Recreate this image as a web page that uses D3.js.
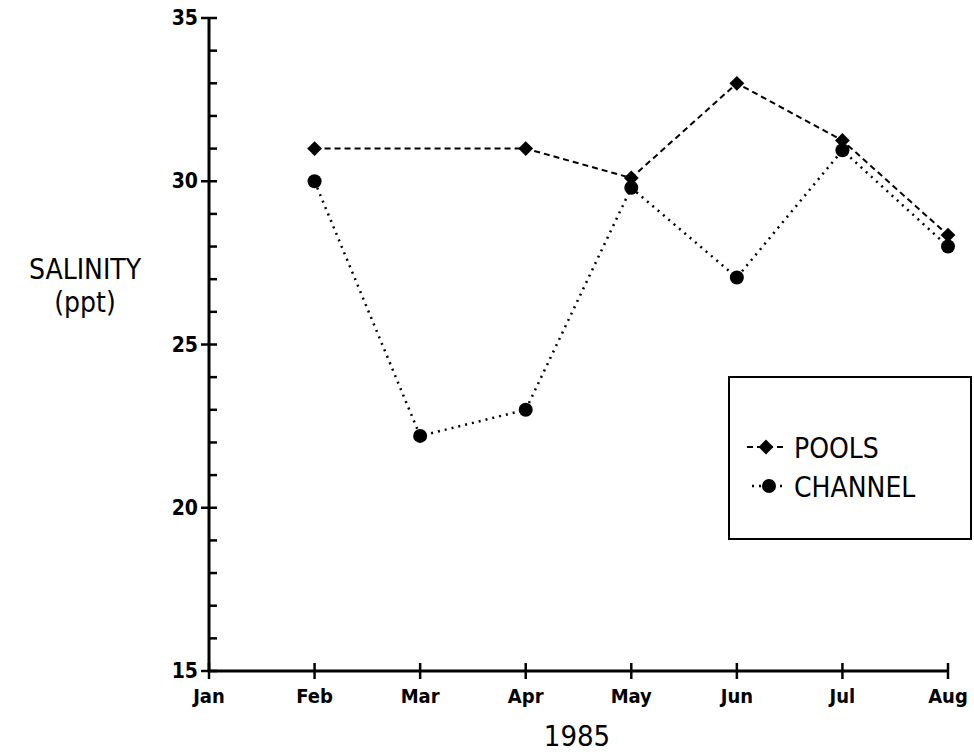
<!DOCTYPE html>
<html><head><meta charset="utf-8">
<script src="https://cdn.jsdelivr.net/npm/d3@7"></script>
<style>body{margin:0;background:#fff}</style>
</head><body>
<svg id="chart" width="974" height="756"></svg>
<script>
const months = ['Jan', 'Feb', 'Mar', 'Apr', 'May', 'Jun', 'Jul', 'Aug'];
const poolMonths = ['Feb', 'Apr', 'May', 'Jun', 'Jul', 'Aug'];
const poolValues = [31, 31, 30.1, 33, 31.25, 28.35];
const channelMonths = ['Feb', 'Mar', 'Apr', 'May', 'Jun', 'Jul', 'Aug'];
const channelValues = [30, 22.2, 23, 29.8, 27.05, 30.95, 28];
const yTicks = [15, 20, 25, 30, 35];

const svg = d3.select('#chart');
const font = "'DejaVu Sans Condensed', 'DejaVu Sans', sans-serif";

const x = d3.scalePoint().domain(months).range([209, 948]);
const y = d3.scaleLinear().domain([15, 35]).range([671, 18]);

// axes
svg.append('line').attr('x1', 209).attr('x2', 948).attr('y1', y(15)).attr('y2', y(15))
  .attr('stroke', '#000').attr('stroke-width', 3);
svg.append('line').attr('x1', 209).attr('x2', 209).attr('y1', y(15)).attr('y2', y(35))
  .attr('stroke', '#000').attr('stroke-width', 3);

// y ticks
d3.range(15, 36).forEach(v => {
  const major = v % 5 === 0;
  svg.append('line').attr('x1', major ? 201 : 209).attr('x2', 217)
    .attr('y1', y(v)).attr('y2', y(v)).attr('stroke', '#000').attr('stroke-width', 2.5);
});
yTicks.forEach(v => {
  svg.append('text').attr('x', 198).attr('y', y(v) + 7).attr('text-anchor', 'end')
    .style('font-family', font).style('font-size', '21px').style('font-weight', 'bold').text(v);
});

// x ticks
months.forEach(m => {
  svg.append('line').attr('x1', x(m)).attr('x2', x(m)).attr('y1', y(15) - 8).attr('y2', y(15) + 8)
    .attr('stroke', '#000').attr('stroke-width', 2.5);
  svg.append('text').attr('x', x(m)).attr('y', 703).attr('text-anchor', 'middle')
    .style('font-family', font).style('font-size', '20px').style('font-weight', 'bold').text(m);
});

svg.append('text').attr('x', 577).attr('y', 746).attr('text-anchor', 'middle')
  .style('font-family', font).style('font-size', '29px').text('1985');
svg.append('text').attr('x', 85).attr('y', 279).attr('text-anchor', 'middle')
  .style('font-family', font).style('font-size', '28px').text('SALINITY');
svg.append('text').attr('x', 85).attr('y', 312).attr('text-anchor', 'middle')
  .style('font-family', font).style('font-size', '28px').text('(ppt)');

const line = d3.line().x(d => x(d[0])).y(d => y(d[1]));
const pools = poolMonths.map((m, i) => [m, poolValues[i]]);
const channel = channelMonths.map((m, i) => [m, channelValues[i]]);

svg.append('path').attr('d', line(pools)).attr('fill', 'none').attr('stroke', '#000')
  .attr('stroke-width', 2).attr('stroke-dasharray', '6,4');
svg.append('path').attr('d', line(channel)).attr('fill', 'none').attr('stroke', '#000')
  .attr('stroke-width', 2.5).attr('stroke-dasharray', '2,5');

const diamond = d3.symbol().type(d3.symbolSquare).size(110);
const dTf = 'rotate(45) ';
svg.selectAll('.pt-pool').data(pools).enter().append('path')
  .attr('transform', d => `translate(${x(d[0])},${y(d[1])}) ${dTf}`)
  .attr('d', diamond()).attr('fill', '#000');
svg.selectAll('.pt-ch').data(channel).enter().append('circle')
  .attr('cx', d => x(d[0])).attr('cy', d => y(d[1])).attr('r', 7).attr('fill', '#000');

// legend
svg.append('rect').attr('x', 729).attr('y', 377).attr('width', 242).attr('height', 162)
  .attr('fill', '#fff').attr('stroke', '#000').attr('stroke-width', 2);
svg.append('line').attr('x1', 747).attr('x2', 785).attr('y1', 447).attr('y2', 447)
  .attr('stroke', '#000').attr('stroke-width', 2).attr('stroke-dasharray', '6,4');
svg.append('path').attr('transform', `translate(766,447) ${dTf}`).attr('d', diamond()).attr('fill', '#000');
svg.append('line').attr('x1', 752).attr('x2', 785).attr('y1', 486).attr('y2', 486)
  .attr('stroke', '#000').attr('stroke-width', 2.5).attr('stroke-dasharray', '2,5');
svg.append('circle').attr('cx', 769).attr('cy', 486).attr('r', 7).attr('fill', '#000');
svg.append('text').attr('x', 794).attr('y', 458).style('font-family', font).style('font-size', '28px').text('POOLS');
svg.append('text').attr('x', 794).attr('y', 497).style('font-family', font).style('font-size', '28px').text('CHANNEL');
</script>
</body></html>
